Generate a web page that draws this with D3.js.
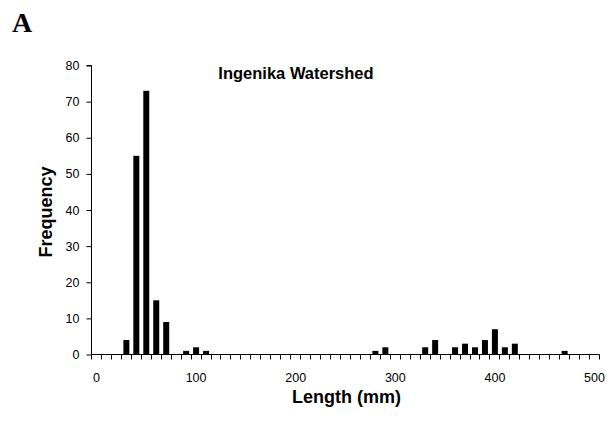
<!DOCTYPE html>
<html>
<head>
<meta charset="utf-8">
<script src="https://cdn.jsdelivr.net/npm/d3@7"></script>
<style>
  body { margin: 0; background: #fff; }
  svg { display: block; }
  text { font-family: Arial, "Liberation Sans", sans-serif; }
</style>
</head>
<body>
<svg id="chart" width="607" height="424"></svg>
<script>
// ---- data ----
const lengths = d3.range(0, 501, 10); // category bins (mm)
const frequencies = [
  0, 0, 0, 4, 55, 73, 15, 9, 0, 1,   // 0-90
  2, 1, 0, 0, 0, 0, 0, 0, 0, 0,      // 100-190
  0, 0, 0, 0, 0, 0, 0, 0, 1, 2,      // 200-290
  0, 0, 0, 2, 4, 0, 2, 3, 2, 4,      // 300-390
  7, 2, 3, 0, 0, 0, 0, 1, 0, 0,      // 400-490
  0                                  // 500
];
const xTickLabels = [0, 100, 200, 300, 400, 500];
const yTicks = [0, 10, 20, 30, 40, 50, 60, 70, 80];
const title = "Ingenika Watershed";
const xTitle = "Length (mm)";
const yTitle = "Frequency";
const panelLabel = "A";

// ---- layout ----
const svg = d3.select("#chart");
const mLeft = 91.5, mRight = 599.5, mTop = 65.5, mBottom = 354.5;

const x = d3.scaleBand()
  .domain(lengths)
  .range([mLeft, mRight])
  .paddingInner(0.4)
  .paddingOuter(0.2);

const y = d3.scaleLinear().domain([0, 80]).range([mBottom, mTop]);

// bars
svg.append("g").selectAll("rect")
  .data(lengths.map((l, i) => ({ l, v: frequencies[i] })).filter(d => d.v > 0))
  .join("rect")
  .attr("x", d => x(d.l))
  .attr("width", x.bandwidth())
  .attr("y", d => y(d.v))
  .attr("height", d => y(0) - y(d.v))
  .attr("fill", "#000");

// y axis
const yAxis = d3.axisLeft(y).tickValues(yTicks).tickSize(5).tickPadding(7);
const gy = svg.append("g").attr("transform", `translate(${mLeft},0)`).call(yAxis);
gy.select(".domain").attr("stroke", "#000").attr("d", `M-5,${mTop}H0V${mBottom}`);
gy.selectAll(".tick line").attr("stroke", "#000");
gy.selectAll(".tick text").attr("font-size", 12.5).attr("fill", "#000")
  .attr("font-family", "Arial, 'Liberation Sans', sans-serif");

// x axis line
svg.append("line")
  .attr("x1", mLeft).attr("x2", mRight)
  .attr("y1", mBottom).attr("y2", mBottom)
  .attr("stroke", "#000");

// x boundary ticks
const step = x.step();
const boundaries = lengths.map(l => x(l) - x.paddingInner() * step / 2).concat([mRight]);
svg.append("g").selectAll("line")
  .data(boundaries)
  .join("line")
  .attr("x1", d => Math.round(d - 0.5) + 0.5)
  .attr("x2", d => Math.round(d - 0.5) + 0.5)
  .attr("y1", mBottom).attr("y2", mBottom + 5)
  .attr("stroke", "#000");

// x labels
const xAxis = d3.axisBottom(x).tickValues(xTickLabels).tickSize(0).tickPadding(19);
const gx = svg.append("g").attr("transform", `translate(0,${mBottom})`).call(xAxis);
gx.select(".domain").remove();
gx.selectAll(".tick text").attr("font-size", 12.5).attr("fill", "#000")
  .attr("font-family", "Arial, 'Liberation Sans', sans-serif");

// titles
svg.append("text")
  .attr("x", 296).attr("y", 79)
  .attr("text-anchor", "middle")
  .attr("font-size", 16.5).attr("font-weight", "bold")
  .text(title);

svg.append("text")
  .attr("x", (mLeft + mRight) / 2 + 1).attr("y", 403)
  .attr("text-anchor", "middle")
  .attr("font-size", 18).attr("font-weight", "bold")
  .text(xTitle);

svg.append("text")
  .attr("transform", `translate(52,${(mTop + mBottom) / 2 + 2}) rotate(-90)`)
  .attr("text-anchor", "middle")
  .attr("font-size", 18).attr("font-weight", "bold")
  .text(yTitle);

svg.append("text")
  .attr("x", 12).attr("y", 32)
  .attr("font-size", 28).attr("font-weight", "bold")
  .style("font-family", "'Liberation Serif', 'Times New Roman', serif")
  .text(panelLabel);
</script>
</body>
</html>
